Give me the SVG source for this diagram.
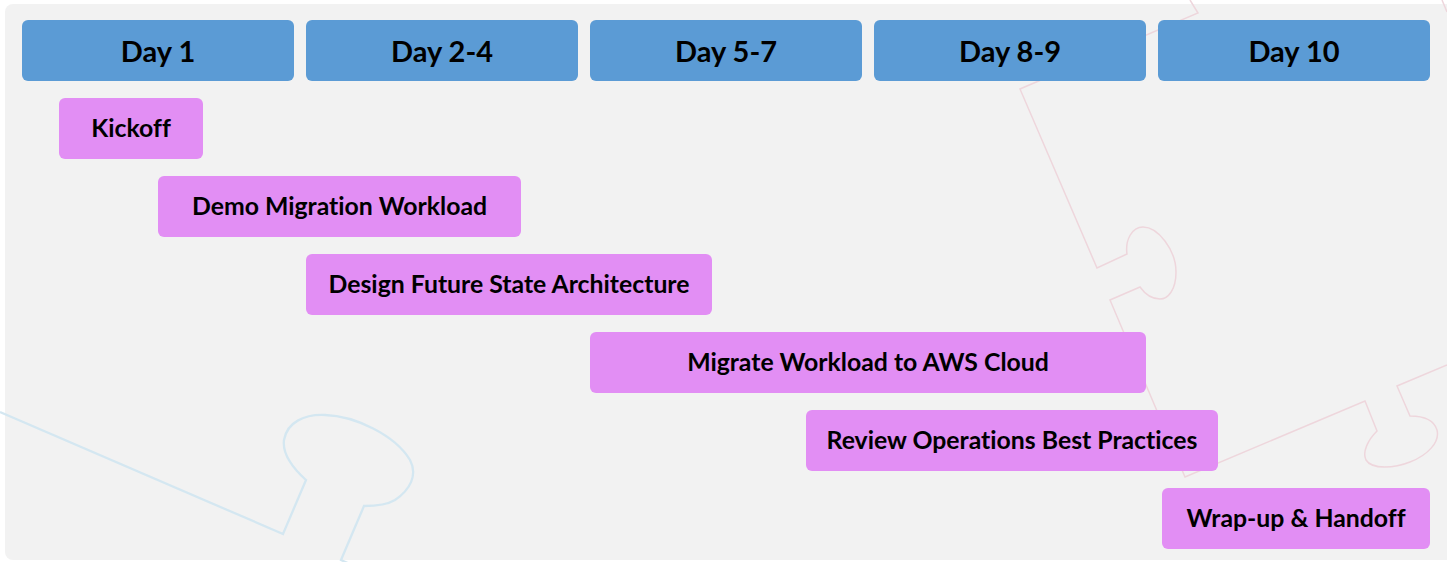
<svg xmlns="http://www.w3.org/2000/svg" width="1447" height="562" viewBox="0 0 1447 562">
  <style>
    .hdr { fill: #5b9bd5; }
    .task { fill: #e28ef4; }
    .ht { font-family: Lato, "Liberation Sans", sans-serif; font-weight: 700; font-size: 29px; fill: #000; text-anchor: middle; font-variant-ligatures: none; }
    .tt { font-family: Lato, "Liberation Sans", sans-serif; font-weight: 700; font-size: 24.8px; fill: #000; text-anchor: middle; font-variant-ligatures: none; }
    .pz-pink { fill: none; stroke: #eed6dc; stroke-width: 1.5; stroke-linejoin: miter; }
    .pz-blue { fill: none; stroke: #d4e7f1; stroke-width: 2.3; stroke-linejoin: miter; }
  </style>
  <rect x="0" y="0" width="1447" height="562" fill="#ffffff"/>
  <rect x="5" y="4" width="1452" height="556" rx="8" fill="#f2f2f2"/>
  <g id="background-puzzle">
    <path class="pz-pink" d="M1190,0 L1198,13 L1020,89 L1097,268 L1127,254 C1125,240 1132,227 1143,227 C1158,227 1176,250 1176,272 C1176,290 1168,299 1160,299 C1152,299 1145,294 1140,287 L1110,300 L1185,477 L1365,401 L1377,431 C1368,440 1362,452 1366,460 C1372,470 1395,468 1410,462 C1428,455 1440,442 1437,430 C1434,420 1424,416 1410,416 L1397,386 L1447,365"/>
    <path class="pz-pink" d="M1442,0 L1447,12"/>
    <path class="pz-blue" d="M0,412 L283,534 L306,480 C295,470 282,455 284,440 C287,422 305,414 325,415 C355,416 395,435 410,460 C418,475 410,490 395,500 C385,506 372,506 364,506 L341,560 L352,565"/>
  </g>
  <g id="day-1"><rect class="hdr" x="22" y="20" width="272" height="61" rx="6"/><text class="ht" x="158" y="62">Day 1</text></g>
  <g id="day-2-4"><rect class="hdr" x="306" y="20" width="272" height="61" rx="6"/><text class="ht" x="442" y="62">Day 2-4</text></g>
  <g id="day-5-7"><rect class="hdr" x="590" y="20" width="272" height="61" rx="6"/><text class="ht" x="726" y="62">Day 5-7</text></g>
  <g id="day-8-9"><rect class="hdr" x="874" y="20" width="272" height="61" rx="6"/><text class="ht" x="1010" y="62">Day 8-9</text></g>
  <g id="day-10"><rect class="hdr" x="1158" y="20" width="272" height="61" rx="6"/><text class="ht" x="1294" y="62">Day 10</text></g>
  <g id="kickoff"><rect class="task" x="59" y="98" width="144" height="61" rx="6"/><text class="tt" x="131" y="137">Kickoff</text></g>
  <g id="demo-migration-workload"><rect class="task" x="158" y="176" width="363" height="61" rx="6"/><text class="tt" x="339.5" y="215">Demo Migration Workload</text></g>
  <g id="design-future-state-architecture"><rect class="task" x="306" y="254" width="406" height="61" rx="6"/><text class="tt" x="509" y="293">Design Future State Architecture</text></g>
  <g id="migrate-workload"><rect class="task" x="590" y="332" width="556" height="61" rx="6"/><text class="tt" x="868" y="371">Migrate Workload to AWS Cloud</text></g>
  <g id="review-operations"><rect class="task" x="806" y="410" width="412" height="61" rx="6"/><text class="tt" x="1012" y="449">Review Operations Best Practices</text></g>
  <g id="wrap-up-handoff"><rect class="task" x="1162" y="488" width="268" height="61" rx="6"/><text class="tt" x="1296" y="527">Wrap-up &amp; Handoff</text></g>
  <g id="connectors"/>
</svg>
